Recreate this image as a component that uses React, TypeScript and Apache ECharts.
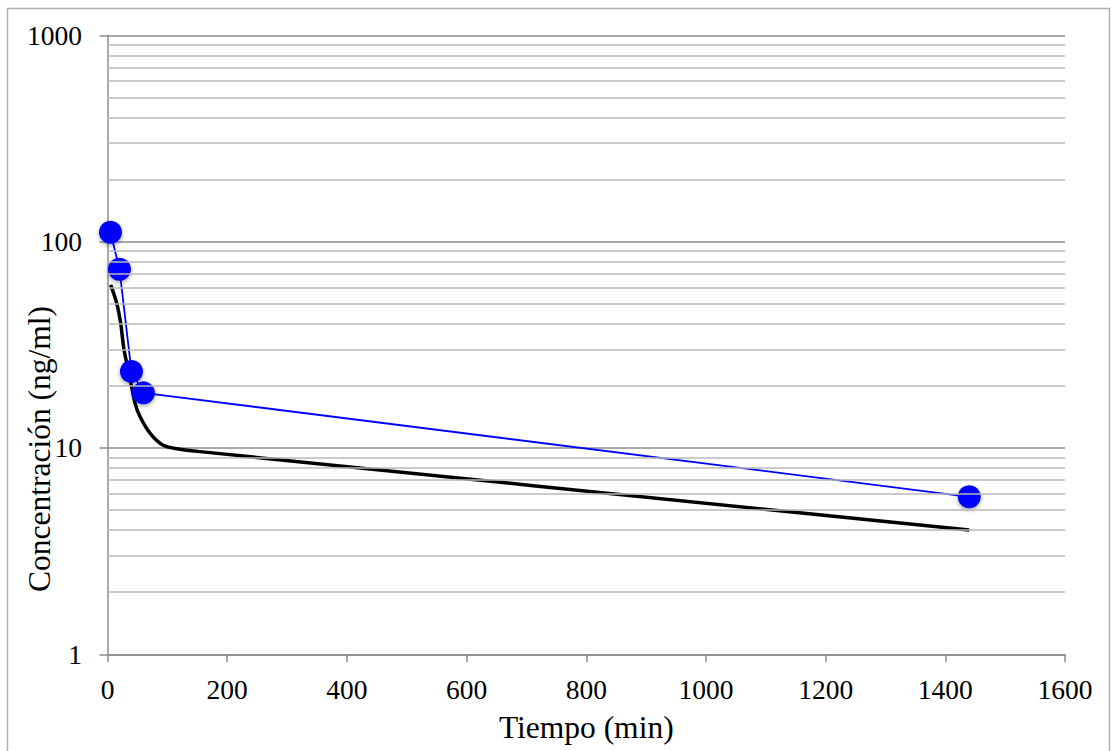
import React, { useEffect, useRef } from "react";
import * as echarts from "echarts";

// Measured points (blue markers)
const timesMeasured = [5, 20, 40, 60, 1440];
const concMeasured = [111, 73.5, 23.5, 18.5, 5.8];

// Fitted curve (black line)
const timesFit = [5.3, 15.4, 22, 27.6, 34.8, 46, 54.3, 71, 93, 121, 154.6, 1440];
const concFit = [61.7, 50.3, 40.2, 29.9, 23.9, 16.5, 14.2, 11.8, 10.3, 9.86, 9.6, 4.0];

// Minor gridline values on the log axis
const minorGridValues = [2, 3, 4, 5, 6, 7, 8, 9, 20, 30, 40, 50, 60, 70, 80, 90, 200, 300, 400, 500, 600, 700, 800, 900];

const FONT = "Liberation Serif";
const Y_TITLE = "Concentración (ng/ml)";

export default function App() {
  const ref = useRef<HTMLDivElement>(null);
  useEffect(() => {
    document.body.style.margin = "0";
    const chart = echarts.init(ref.current!, null, { renderer: "svg" });
    chart.setOption({
      animation: false,
      backgroundColor: "#ffffff",
      graphic: [
        {
          type: "rect",
          shape: { x: 7.5, y: 8.5, width: 1102, height: 760 },
          style: { fill: "none", stroke: "#b0b0b0", lineWidth: 1.5 },
          silent: true,
          z: -10,
        },
        {
          type: "text",
          x: 39,
          y: 449,
          rotation: Math.PI / 2,
          silent: true,
          style: {
            text: Y_TITLE,
            fontFamily: FONT,
            fontSize: 31.5,
            fill: "#000",
            align: "center",
            verticalAlign: "middle",
          },
        },
      ],
      grid: {
        left: 107.5,
        right: 46,
        top: 35.3,
        bottom: 96.7,
        containLabel: false,
        outerBoundsMode: "none",
      },
      xAxis: {
        type: "value",
        min: 0,
        max: 1600,
        interval: 200,
        name: "Tiempo (min)",
        nameLocation: "middle",
        nameGap: 57,
        nameTextStyle: { fontFamily: FONT, fontSize: 31.5, color: "#000" },
        axisLine: { show: true, lineStyle: { color: "#8c8c8c", width: 1.5 } },
        axisTick: { show: true, length: 8, lineStyle: { color: "#8c8c8c", width: 1.5 } },
        axisLabel: {
          fontFamily: FONT,
          fontSize: 27.5,
          color: "#000",
          margin: 21,
          formatter: (v: number) => String(v),
        },
        splitLine: { show: false },
      },
      yAxis: {
        type: "log",
        logBase: 10,
        min: 1,
        max: 1000,
        axisLine: { show: true, onZero: false, lineStyle: { color: "#8c8c8c", width: 1.5 } },
        axisTick: { show: true, length: 8, lineStyle: { color: "#8c8c8c", width: 1.5 } },
        axisLabel: {
          fontFamily: FONT,
          fontSize: 27.5,
          color: "#000",
          margin: 25.5,
          formatter: (v: number) => String(Math.round(v)),
        },
        splitLine: { show: true, lineStyle: { color: "#8c8c8c", width: 1.5 } },
        minorTick: { show: false },
        minorSplitLine: { show: false },
      },
      series: [
        {
          type: "line",
          name: "grid",
          data: [[0, 1]],
          showSymbol: false,
          symbol: "none",
          lineStyle: { width: 0 },
          silent: true,
          z: 1,
          markLine: {
            silent: true,
            symbol: ["none", "none"],
            label: { show: false },
            lineStyle: { type: "solid", color: "#b8b8b8", width: 1.5 },
            data: minorGridValues.map((v) => ({ yAxis: v })),
          },
        },
        {
          type: "line",
          name: "fit",
          data: timesFit.map((t, i) => [t, concFit[i]]),
          showSymbol: false,
          symbol: "none",
          smooth: 0.3,
          lineStyle: { color: "#000000", width: 3.5 },
          z: 3,
        },
        {
          type: "line",
          name: "measured",
          data: timesMeasured.map((t, i) => [t, concMeasured[i]]),
          symbol: "circle",
          symbolSize: 23,
          itemStyle: {
            color: "#0000ff",
            shadowBlur: 4,
            shadowColor: "rgba(0,0,0,0.35)",
            shadowOffsetY: 2,
          },
          lineStyle: { color: "#0000ff", width: 1.8 },
          z: 4,
        },
      ],
    });
    return () => chart.dispose();
  }, []);
  return <div ref={ref} style={{ width: 1111, height: 751 }} />;
}
